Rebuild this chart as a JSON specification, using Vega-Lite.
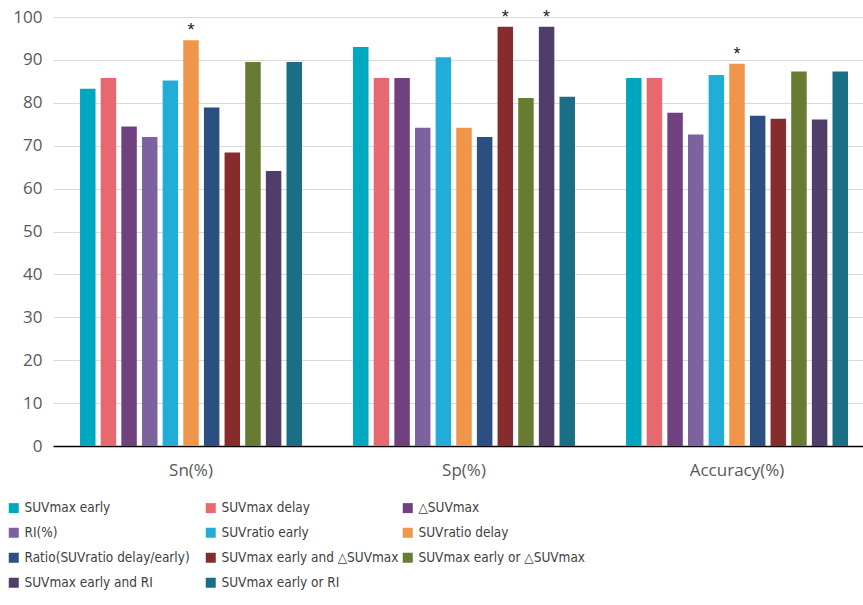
{
  "$schema": "https://vega.github.io/schema/vega-lite/v6.json",
  "autosize": {"type": "none"},
  "padding": {"left": 53, "top": 17, "right": 0, "bottom": 159},
  "width": 810,
  "height": 429,
  "background": "white",
  "data": {"values": [
    {"metric": "Sn(%)", "method": "SUVmax early", "value": 83.3, "star": ""},
    {"metric": "Sn(%)", "method": "SUVmax delay", "value": 85.8, "star": ""},
    {"metric": "Sn(%)", "method": "△SUVmax", "value": 74.5, "star": ""},
    {"metric": "Sn(%)", "method": "RI(%)", "value": 72.0, "star": ""},
    {"metric": "Sn(%)", "method": "SUVratio early", "value": 85.2, "star": ""},
    {"metric": "Sn(%)", "method": "SUVratio delay", "value": 94.6, "star": "*"},
    {"metric": "Sn(%)", "method": "Ratio(SUVratio delay/early)", "value": 78.9, "star": ""},
    {"metric": "Sn(%)", "method": "SUVmax early and △SUVmax", "value": 68.4, "star": ""},
    {"metric": "Sn(%)", "method": "SUVmax early or △SUVmax", "value": 89.5, "star": ""},
    {"metric": "Sn(%)", "method": "SUVmax early and RI", "value": 64.1, "star": ""},
    {"metric": "Sn(%)", "method": "SUVmax early or RI", "value": 89.5, "star": ""},
    {"metric": "Sp(%)", "method": "SUVmax early", "value": 93.0, "star": ""},
    {"metric": "Sp(%)", "method": "SUVmax delay", "value": 85.8, "star": ""},
    {"metric": "Sp(%)", "method": "△SUVmax", "value": 85.8, "star": ""},
    {"metric": "Sp(%)", "method": "RI(%)", "value": 74.2, "star": ""},
    {"metric": "Sp(%)", "method": "SUVratio early", "value": 90.6, "star": ""},
    {"metric": "Sp(%)", "method": "SUVratio delay", "value": 74.2, "star": ""},
    {"metric": "Sp(%)", "method": "Ratio(SUVratio delay/early)", "value": 72.0, "star": ""},
    {"metric": "Sp(%)", "method": "SUVmax early and △SUVmax", "value": 97.7, "star": "*"},
    {"metric": "Sp(%)", "method": "SUVmax early or △SUVmax", "value": 81.1, "star": ""},
    {"metric": "Sp(%)", "method": "SUVmax early and RI", "value": 97.7, "star": "*"},
    {"metric": "Sp(%)", "method": "SUVmax early or RI", "value": 81.4, "star": ""},
    {"metric": "Accuracy(%)", "method": "SUVmax early", "value": 85.8, "star": ""},
    {"metric": "Accuracy(%)", "method": "SUVmax delay", "value": 85.8, "star": ""},
    {"metric": "Accuracy(%)", "method": "△SUVmax", "value": 77.7, "star": ""},
    {"metric": "Accuracy(%)", "method": "RI(%)", "value": 72.6, "star": ""},
    {"metric": "Accuracy(%)", "method": "SUVratio early", "value": 86.5, "star": ""},
    {"metric": "Accuracy(%)", "method": "SUVratio delay", "value": 89.1, "star": "*"},
    {"metric": "Accuracy(%)", "method": "Ratio(SUVratio delay/early)", "value": 77.0, "star": ""},
    {"metric": "Accuracy(%)", "method": "SUVmax early and △SUVmax", "value": 76.3, "star": ""},
    {"metric": "Accuracy(%)", "method": "SUVmax early or △SUVmax", "value": 87.3, "star": ""},
    {"metric": "Accuracy(%)", "method": "SUVmax early and RI", "value": 76.1, "star": ""},
    {"metric": "Accuracy(%)", "method": "SUVmax early or RI", "value": 87.3, "star": ""}
  ]},
  "encoding": {
    "x": {
      "field": "metric", "type": "nominal",
      "sort": ["Sn(%)", "Sp(%)", "Accuracy(%)"],
      "scale": {"paddingInner": 0.187, "paddingOuter": 0.077, "align": 0.643},
      "axis": {
        "title": null, "labelAngle": 0, "labelFontSize": 17, "labelColor": "#595959",
        "labelFont": "Open Sans", "domainColor": "#000000", "domainWidth": 1.5,
        "ticks": false, "labelPadding": 16
      }
    },
    "xOffset": {
      "field": "method", "type": "nominal",
      "sort": ["SUVmax early", "SUVmax delay", "△SUVmax", "RI(%)", "SUVratio early", "SUVratio delay", "Ratio(SUVratio delay/early)", "SUVmax early and △SUVmax", "SUVmax early or △SUVmax", "SUVmax early and RI", "SUVmax early or RI"],
      "scale": {"paddingInner": 0.25, "paddingOuter": 0}
    },
    "y": {
      "field": "value", "type": "quantitative",
      "scale": {"domain": [0, 100], "nice": false},
      "axis": {
        "title": null, "values": [0,10,20,30,40,50,60,70,80,90,100],
        "labelFontSize": 17, "labelColor": "#595959", "labelFont": "Open Sans",
        "domain": false, "ticks": false, "labelPadding": 11,
        "gridColor": "#d9d9d9", "gridWidth": 1
      }
    }
  },
  "layer": [
    {
      "mark": {"type": "bar"},
      "encoding": {
        "color": {
          "field": "method", "type": "nominal",
          "sort": ["SUVmax early", "SUVmax delay", "△SUVmax", "RI(%)", "SUVratio early", "SUVratio delay", "Ratio(SUVratio delay/early)", "SUVmax early and △SUVmax", "SUVmax early or △SUVmax", "SUVmax early and RI", "SUVmax early or RI"],
          "scale": {
            "domain": ["SUVmax early", "SUVmax delay", "△SUVmax", "RI(%)", "SUVratio early", "SUVratio delay", "Ratio(SUVratio delay/early)", "SUVmax early and △SUVmax", "SUVmax early or △SUVmax", "SUVmax early and RI", "SUVmax early or RI"],
            "range": ["#00A7C1", "#E8686F", "#71407F", "#7D62A0", "#22ADD9", "#F0964A", "#2B4F80", "#862C2D", "#677B33", "#503D6A", "#1A6F86"]
          },
          "legend": {
            "title": null, "orient": "none", "legendX": -46, "legendY": 484,
            "direction": "horizontal",
            "columns": 3, "gridAlign": "all", "columnPadding": 2, "rowPadding": 10,
            "symbolType": "square", "symbolSize": 100, "symbolStrokeWidth": 0,
            "labelFontSize": 13.5, "labelFont": "DejaVu Sans Condensed, Roboto, sans-serif", "labelColor": "#404040",
            "labelLimit": 0, "labelOffset": 4
          }
        }
      }
    },
    {
      "transform": [{"filter": "datum.star != ''"}],
      "mark": {"type": "text", "dy": -9, "fontSize": 18, "color": "#222222", "font": "Liberation Sans"},
      "encoding": {"text": {"field": "star"}}
    }
  ],
  "config": {"view": {"stroke": null}}
}
